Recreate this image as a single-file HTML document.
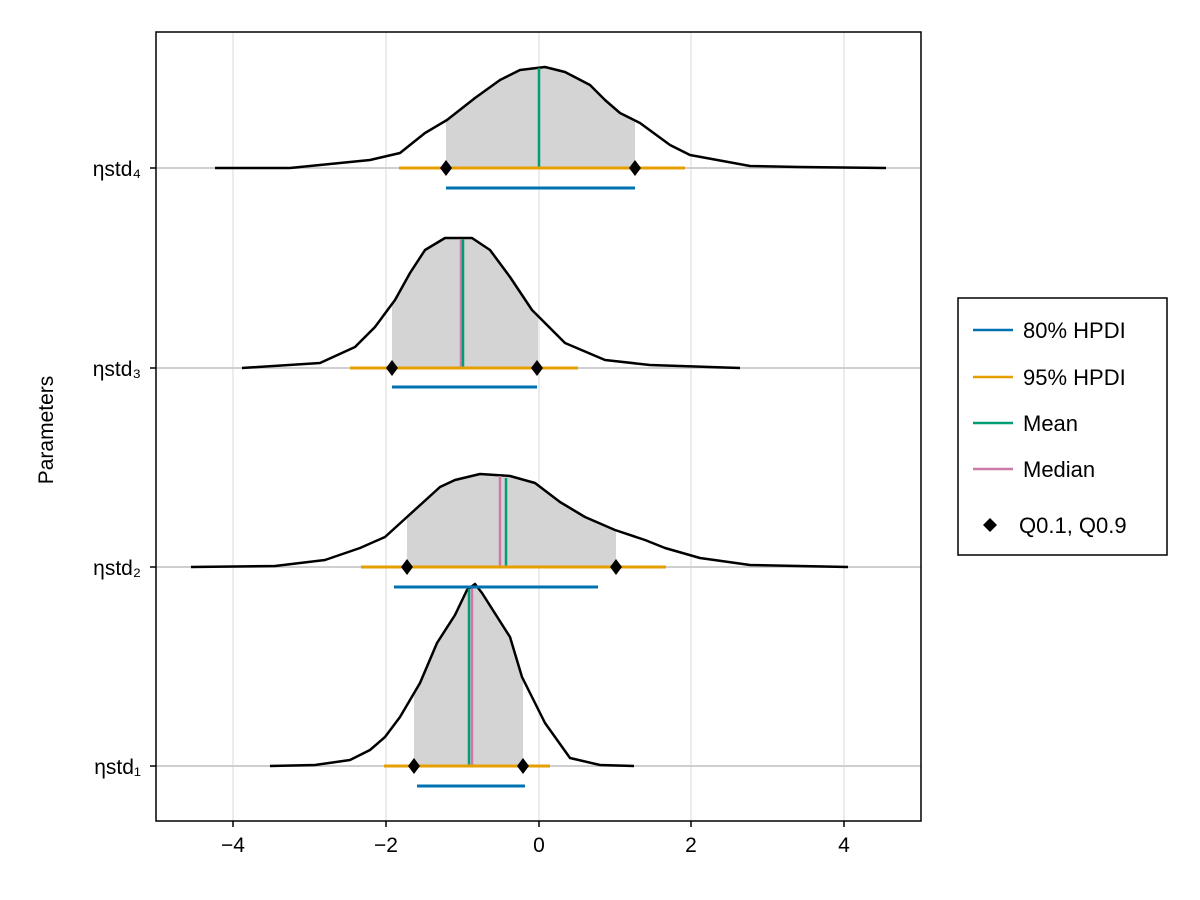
<!DOCTYPE html>
<html><head><meta charset="utf-8"><style>body{margin:0;background:#fff}svg{display:block}text{font-family:"Liberation Sans",sans-serif;fill:#000}</style></head><body>
<svg width="1200" height="900" viewBox="0 0 1200 900" xmlns="http://www.w3.org/2000/svg">
<defs>
<clipPath id="c4"><polygon points="215,168 290,168 370,160 400,153 425,133 447,120 475,98 500,80 520,70 545,67 565,72 590,85 605,100 620,113 640,123 670,145 690,155 750,166 800,167 890,168"/></clipPath>
<clipPath id="c3"><polygon points="242,368 320,363 355,347 375,327 395,300 410,273 425,250 445,238 472,238 490,250 510,277 532,310 565,343 605,360 650,365 742,368"/></clipPath>
<clipPath id="c2"><polygon points="191,567 275,566 325,560 360,548 385,537 407,517 440,487 455,480 480,474 510,476 535,483 560,502 585,517 615,530 645,540 665,548 700,558 750,565 850,567"/></clipPath>
<clipPath id="c1"><polygon points="270,766 315,765 350,760 370,750 385,737 400,717 420,683 437,643 455,615 467,590 475,584 482,593 510,637 522,677 545,723 570,758 600,765 635,766"/></clipPath>
</defs>
<g stroke="#e6e6e6" stroke-width="1.5">
<line x1="233" y1="32" x2="233" y2="821"/><line x1="386" y1="32" x2="386" y2="821"/><line x1="539" y1="32" x2="539" y2="821"/><line x1="691" y1="32" x2="691" y2="821"/><line x1="844" y1="32" x2="844" y2="821"/>
</g>
<g stroke="#cfcfcf" stroke-width="2">
<line x1="156" y1="168" x2="921" y2="168"/><line x1="156" y1="368" x2="921" y2="368"/><line x1="156" y1="567" x2="921" y2="567"/><line x1="156" y1="766" x2="921" y2="766"/>
</g>
<g fill="#d4d4d4">
<rect x="446" y="0" width="189" height="168" clip-path="url(#c4)"/>
<rect x="392" y="200" width="146" height="168" clip-path="url(#c3)"/>
<rect x="407" y="400" width="209" height="167" clip-path="url(#c2)"/>
<rect x="414" y="560" width="109" height="206" clip-path="url(#c1)"/>
</g>
<g fill="none" stroke="#000" stroke-width="2.5" stroke-linejoin="round">
<polyline points="215,168 290,168 370,160 400,153 425,133 447,120 475,98 500,80 520,70 545,67 565,72 590,85 605,100 620,113 640,123 670,145 690,155 750,166 800,167 886,168"/>
<polyline points="242,368 320,363 355,347 375,327 395,300 410,273 425,250 445,238 472,238 490,250 510,277 532,310 565,343 605,360 650,365 740,368"/>
<polyline points="191,567 275,566 325,560 360,548 385,537 407,517 440,487 455,480 480,474 510,476 535,483 560,502 585,517 615,530 645,540 665,548 700,558 750,565 848,567"/>
<polyline points="270,766 315,765 350,760 370,750 385,737 400,717 420,683 437,643 455,615 467,590 475,584 482,593 510,637 522,677 545,723 570,758 600,765 634,766"/>
</g>
<g stroke-width="2.5">
<line x1="539" y1="168" x2="539" y2="68" stroke="#009e73"/>
<line x1="461" y1="368" x2="461" y2="239" stroke="#cc79a7"/><line x1="463" y1="368" x2="463" y2="239" stroke="#009e73"/>
<line x1="500" y1="567" x2="500" y2="476" stroke="#cc79a7"/><line x1="506" y1="567" x2="506" y2="478" stroke="#009e73"/>
<line x1="472" y1="766" x2="472" y2="588" stroke="#cc79a7"/><line x1="469" y1="766" x2="469" y2="589" stroke="#009e73"/>
</g>
<g stroke="#e69f00" stroke-width="3">
<line x1="399" y1="168" x2="685" y2="168"/><line x1="350" y1="368" x2="578" y2="368"/><line x1="361" y1="567" x2="666" y2="567"/><line x1="384" y1="766" x2="550" y2="766"/>
</g>
<g stroke="#0072b2" stroke-width="3">
<line x1="446" y1="188" x2="635" y2="188"/><line x1="392" y1="387" x2="537" y2="387"/><line x1="394" y1="587" x2="598" y2="587"/><line x1="417" y1="786" x2="525" y2="786"/>
</g>
<g fill="#000">
<path d="M446,160 l6,8 l-6,8 l-6,-8z"/><path d="M635,160 l6,8 l-6,8 l-6,-8z"/>
<path d="M392,360 l6,8 l-6,8 l-6,-8z"/><path d="M537,360 l6,8 l-6,8 l-6,-8z"/>
<path d="M407,559 l6,8 l-6,8 l-6,-8z"/><path d="M616,559 l6,8 l-6,8 l-6,-8z"/>
<path d="M414,758 l6,8 l-6,8 l-6,-8z"/><path d="M523,758 l6,8 l-6,8 l-6,-8z"/>
</g>
<rect x="156" y="32" width="765" height="789" fill="none" stroke="#000" stroke-width="1.5"/>
<g stroke="#000" stroke-width="1.5">
<line x1="233" y1="821" x2="233" y2="827"/><line x1="386" y1="821" x2="386" y2="827"/><line x1="539" y1="821" x2="539" y2="827"/><line x1="691" y1="821" x2="691" y2="827"/><line x1="844" y1="821" x2="844" y2="827"/>
<line x1="150" y1="168" x2="156" y2="168"/><line x1="150" y1="368" x2="156" y2="368"/><line x1="150" y1="567" x2="156" y2="567"/><line x1="150" y1="766" x2="156" y2="766"/>
</g>
<g font-size="21" text-anchor="middle">
<text x="233" y="852">−4</text><text x="386" y="852">−2</text><text x="539" y="852">0</text><text x="691" y="852">2</text><text x="844" y="852">4</text>
</g>
<g font-size="21" text-anchor="end">
<text x="141" y="176">ηstd₄</text><text x="141" y="376">ηstd₃</text><text x="141" y="575">ηstd₂</text><text x="141" y="774">ηstd₁</text>
</g>
<text x="0" y="0" font-size="21" text-anchor="middle" transform="translate(53,430) rotate(-90)">Parameters</text>
<rect x="958" y="298" width="209" height="257" fill="#fff" stroke="#000" stroke-width="1.5"/>
<g stroke-width="2.5">
<line x1="973" y1="330" x2="1013" y2="330" stroke="#0072b2"/>
<line x1="973" y1="377" x2="1013" y2="377" stroke="#e69f00"/>
<line x1="973" y1="423" x2="1013" y2="423" stroke="#009e73"/>
<line x1="973" y1="469" x2="1013" y2="469" stroke="#cc79a7"/>
</g>
<path d="M990,518 l7,7 l-7,7 l-7,-7z" fill="#000"/>
<g font-size="22">
<text x="1023" y="338">80% HPDI</text><text x="1023" y="385">95% HPDI</text><text x="1023" y="431">Mean</text><text x="1023" y="477">Median</text><text x="1019" y="533">Q0.1, Q0.9</text>
</g>
</svg>
</body></html>
